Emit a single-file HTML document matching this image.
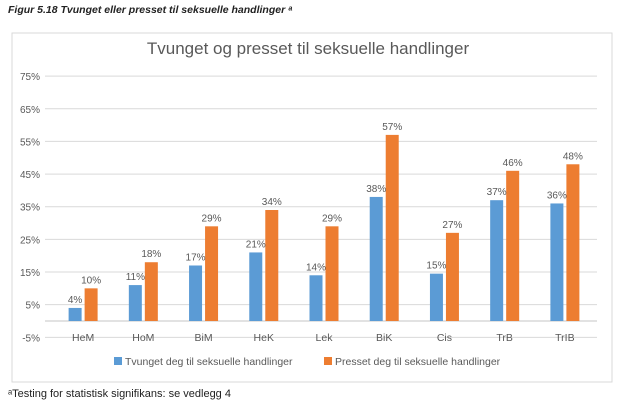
<!DOCTYPE html>
<html><head><meta charset="utf-8"><style>
body{margin:0;background:#fff;width:617px;height:406px;overflow:hidden;font-family:"Liberation Sans",sans-serif;}
svg text{font-family:"Liberation Sans",sans-serif;}
</style></head><body>
<svg width="617" height="406" viewBox="0 0 617 406">
<text x="8" y="13" font-size="10.5" font-weight="bold" font-style="italic" fill="#222">Figur 5.18 Tvunget eller presset til seksuelle handlinger ᵃ</text>
<rect x="12" y="33" width="600" height="349" fill="#fff" stroke="#d9d9d9"/>
<text x="308" y="54" font-size="17" fill="#595959" text-anchor="middle">Tvunget og presset til seksuelle handlinger</text>
<g id="grid"></g><g id="bars"></g><g id="xlabels"></g>
<rect x="114" y="357" width="8" height="8" fill="#5b9bd5"/>
<text x="125" y="365" font-size="10.5" fill="#595959">Tvunget deg til seksuelle handlinger</text>
<rect x="324" y="357" width="8" height="8" fill="#ed7d31"/>
<text x="335" y="365" font-size="10.5" fill="#595959">Presset deg til seksuelle handlinger</text>
<text x="8" y="397" font-size="11" fill="#222">ᵃTesting for statistisk signifikans: se vedlegg 4</text>
</svg>
<script>
const categories=["HeM","HoM","BiM","HeK","Lek","BiK","Cis","TrB","TrIB"];
const tvunget=[4,11,17,21,14,38,14.5,37,36];
const presset=[10,18,29,34,29,57,27,46,48];
const tvungetLabels=["4%","11%","17%","21%","14%","38%","15%","37%","36%"];
const pressetLabels=["10%","18%","29%","34%","29%","57%","27%","46%","48%"];
const yTicks=[75,65,55,45,35,25,15,5,-5];
const NS="http://www.w3.org/2000/svg";
const x0=53,x1=595,y0=321,pxPer=3.265;
const y=v=>y0-v*pxPer;
const band=(x1-x0)/categories.length;
const cx=i=>x0+band*(i+0.5);
function mk(t,a,p){const e=document.createElementNS(NS,t);for(const k in a)e.setAttribute(k,a[k]);document.getElementById(p).appendChild(e);return e;}
yTicks.forEach(t=>{
 const l=mk("line",{x1:45,x2:597,y1:y(t),y2:y(t),stroke:"#d9d9d9","stroke-width":1},"grid");
 
 
 const tx=mk("text",{x:40,y:y(t)+4,"font-size":10,fill:"#595959","text-anchor":"end"},"grid");
 tx.textContent=t+"%";
 
 
});
const zl=mk("line",{x1:45,x2:597,y1:y(0),y2:y(0),stroke:"#d9d9d9","stroke-width":1.5},"grid");


const bw=13;
categories.forEach((c,i)=>{
 const b1=mk("rect",{x:cx(i)-bw-1.5,y:y(tvunget[i]),width:bw,height:y(0)-y(tvunget[i]),fill:"#5b9bd5"},"bars");
 
 
 const b2=mk("rect",{x:cx(i)+1.5,y:y(presset[i]),width:bw,height:y(0)-y(presset[i]),fill:"#ed7d31"},"bars");
 
 
 const t1=mk("text",{x:cx(i)-bw/2-1.5,y:y(tvunget[i])-5,"font-size":10,fill:"#595959","text-anchor":"middle"},"bars");
 t1.textContent=tvungetLabels[i];
 
 
 const t2=mk("text",{x:cx(i)+bw/2+1.5,y:y(presset[i])-5,"font-size":10,fill:"#595959","text-anchor":"middle"},"bars");
 t2.textContent=pressetLabels[i];
 
 
 const xl=mk("text",{x:cx(i),y:341,"font-size":10.5,fill:"#595959","text-anchor":"middle"},"xlabels");
 xl.textContent=c;
 
 
});
</script>
</body></html>
